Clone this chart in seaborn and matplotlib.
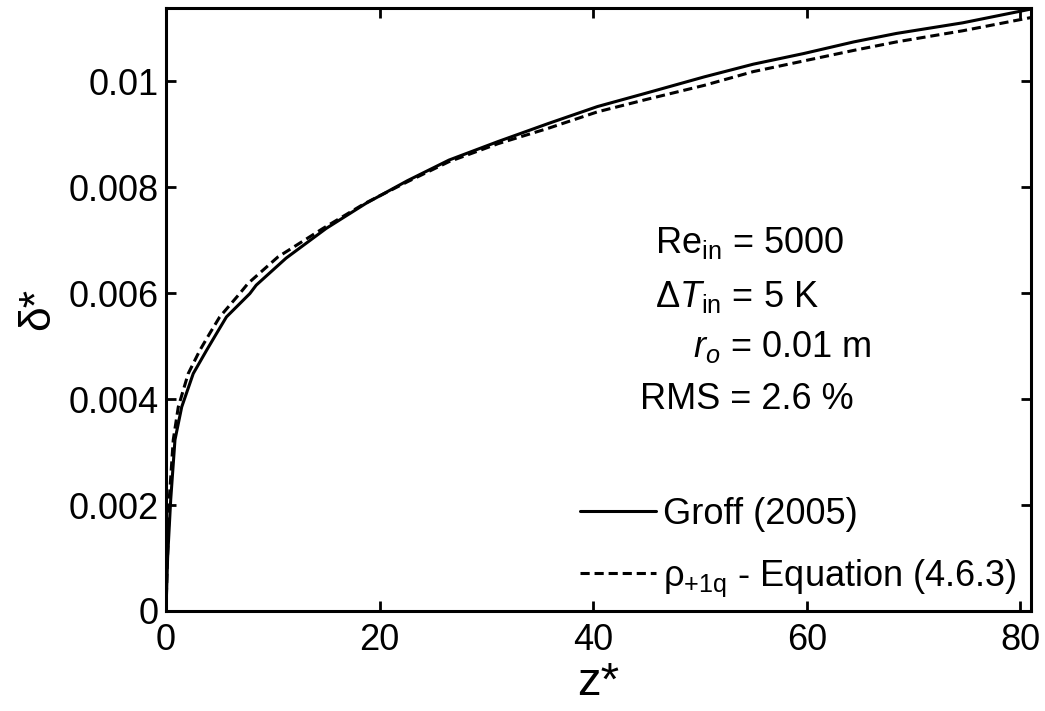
import matplotlib
matplotlib.use("Agg")
import matplotlib.pyplot as plt
import seaborn as sns
import numpy as np

# ---- data ----
groff_z = [0.0, 0.15, 0.44, 0.84, 1.47, 2.55, 3.8, 4.74, 5.66, 7.85, 8.45, 11.25, 15.0,
           18.7, 22.6, 26.5, 31.1, 35.8, 40.4, 44.9, 50.4, 55.0, 59.7, 64.4, 68.4,
           74.6, 81.0]
groff_d = [0.0, 0.0010, 0.0021, 0.00323, 0.00385, 0.00448, 0.00492, 0.00524, 0.00555,
           0.00599, 0.00615, 0.00666, 0.00722, 0.00769, 0.00812, 0.00851, 0.00886, 0.0092,
           0.00952, 0.00977, 0.01008, 0.01032, 0.01052, 0.01074, 0.0109, 0.0111, 0.01136]

model_z = [0.0, 0.1, 0.22, 0.3, 0.68, 1.15, 2.08, 3.17, 4.1, 5.03, 6.9, 7.67, 10.47,
           14.7, 18.6, 22.6, 26.5, 31.1, 35.8, 40.4, 44.9, 50.4, 55.0, 59.7, 64.4,
           68.4, 74.6, 81.0]
model_d = [0.0, 0.0008, 0.00147, 0.0021, 0.00323, 0.00385, 0.00448, 0.00492, 0.00524,
           0.00555, 0.00599, 0.00618, 0.00668, 0.00722, 0.00769, 0.00810, 0.00848,
           0.00882, 0.00911, 0.00942, 0.00965, 0.00992, 0.01018, 0.01038, 0.01058,
           0.01074, 0.01095, 0.0112]

x_ticks = [0, 20, 40, 60, 80]
x_ticklabels = ["0", "20", "40", "60", "80"]
y_ticks = [0, 0.002, 0.004, 0.006, 0.008, 0.01]
y_ticklabels = ["0", "0.002", "0.004", "0.006", "0.008", "0.01"]

series_labels = ["Groff (2005)", r"ρ$_{\mathregular{+1q}}$ - Equation (4.6.3)"]
annotations = [r"Re$_{\mathregular{in}}$ = 5000",
               r"$\Delta\mathit{T}_{\mathregular{in}}$ = 5 K",
               r"$\mathit{r}_{\mathit{o}}$ = 0.01 m",
               "RMS = 2.6 %"]

# ---- style ----
sns.set_style("ticks")
plt.rcParams["font.family"] = ["Liberation Sans", "DejaVu Sans"]
plt.rcParams["mathtext.fontset"] = "custom"
plt.rcParams["mathtext.rm"] = "Liberation Sans"
plt.rcParams["mathtext.it"] = "Liberation Sans:italic"
plt.rcParams["mathtext.bf"] = "Liberation Sans:bold"
plt.rcParams["text.color"] = "black"
plt.rcParams["axes.labelcolor"] = "black"
plt.rcParams["xtick.color"] = "black"
plt.rcParams["ytick.color"] = "black"

FS = 26

fig = plt.figure(figsize=(10.45, 7.11), dpi=100)
ax = fig.add_axes([166 / 1045, 100 / 711, (1031 - 166) / 1045, (611 - 8) / 711])

sns.lineplot(x=groff_z, y=groff_d, ax=ax, color="black", lw=2.2,
             label=series_labels[0], sort=False, estimator=None)
sns.lineplot(x=model_z, y=model_d, ax=ax, color="black", lw=2.2,
             linestyle=(0, (3, 1.6)), label=series_labels[1], sort=False, estimator=None)

ax.set_xlim(0, 81)
ax.set_ylim(0, 0.01138)
ax.set_xticks(x_ticks, x_ticklabels)
ax.set_yticks(y_ticks, y_ticklabels)
ax.tick_params(axis="both", direction="in", length=7, width=2, labelsize=FS,
               top=True, right=True, colors="black")
ax.tick_params(axis="x", pad=9)
ax.tick_params(axis="y", pad=5)
for s in ax.spines.values():
    s.set_linewidth(2.2)
    s.set_color("black")
    s.set_visible(True)

ax.set_xlabel("z*", fontsize=34, labelpad=2, color="black")
ax.set_ylabel("δ*", fontsize=32, labelpad=8, color="black")

leg = ax.legend(loc="lower right", bbox_to_anchor=(1.0, -0.004), frameon=False,
                fontsize=FS, handlelength=2.1, handletextpad=0.18, labelspacing=0.72,
                borderaxespad=0.0)
for t in leg.get_texts():
    t.set_color("black")

pos = [(655, 253), (655, 307), (693, 357), (640, 409)]
for txt, (px, py) in zip(annotations, pos):
    fig.text(px / 1045, 1 - py / 711, txt, fontsize=FS, ha="left", va="baseline",
             color="black")

fig.savefig("out.png", dpi=100)
